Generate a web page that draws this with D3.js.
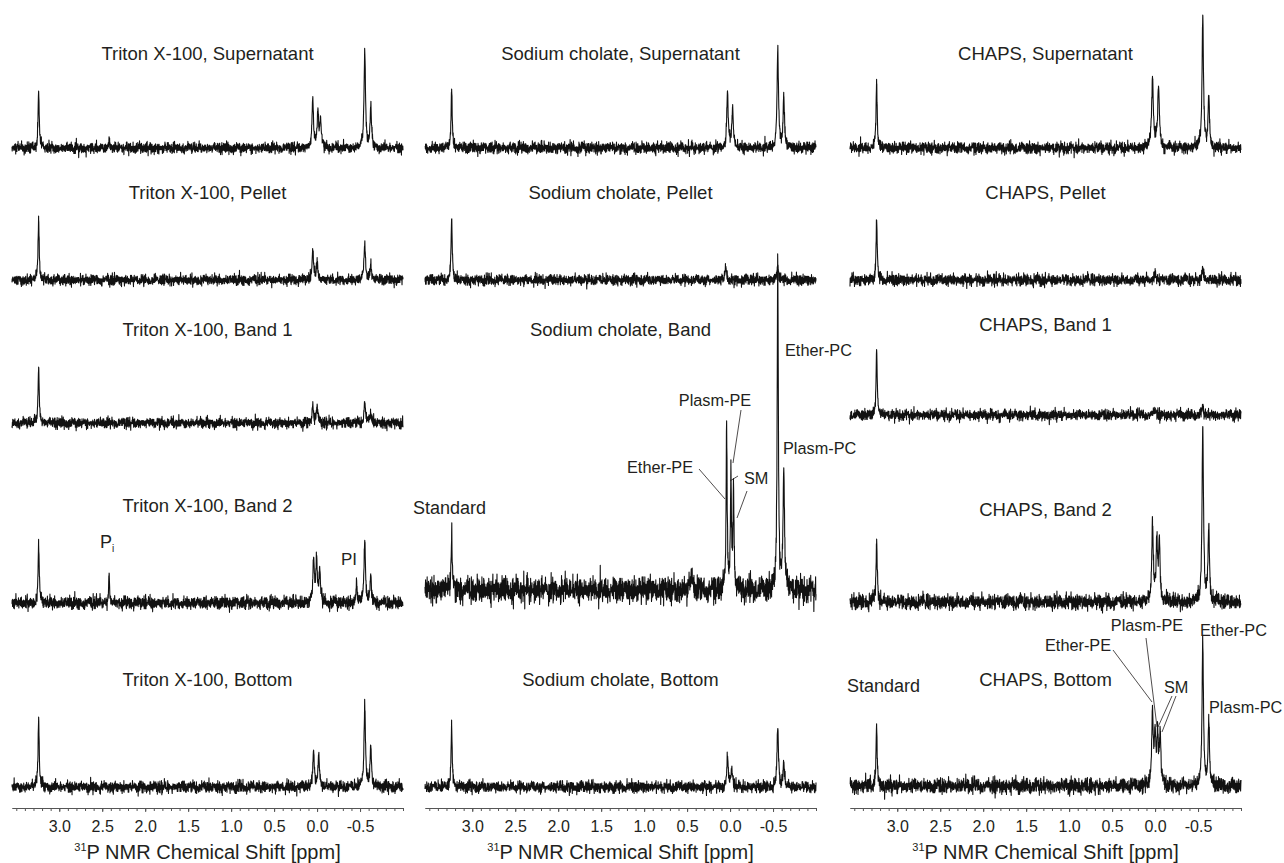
<!DOCTYPE html>
<html>
<head>
<meta charset="utf-8">
<script src="https://cdn.jsdelivr.net/npm/d3@7"></script>
<style>
  body { margin: 0; background: #fff; }
  text { font-family: "Liberation Sans", Arial, Helvetica, sans-serif; fill: #231f20; }
</style>
</head>
<body>
<script>
var svgWidth = 1284;
var svgHeight = 863;

// chemical shift range shown on every axis (ppm, reversed like NMR)
var ppmDomain = [3.55, -1.0];
var majorTicks = [3.0, 2.5, 2.0, 1.5, 1.0, 0.5, 0.0, -0.5];
var minorTicks = d3.range(35, -11, -1).map(d => d / 10);

var detergents = ["Triton X-100", "Sodium cholate", "CHAPS"];

// peaks: [ppm, intensity, half width (ppm)]
var tritonSupernatant = [[3.24, 57, 0.008], [2.42, 11, 0.006], [0.05, 48], [-0.01, 36], [-0.04, 28], [-0.555, 96], [-0.625, 40]];
var tritonPellet = [[3.24, 60, 0.008], [0.05, 29], [0.0, 19], [-0.555, 37], [-0.625, 15]];
var tritonBand1 = [[3.24, 56, 0.008], [0.05, 19], [0.0, 16], [-0.555, 21], [-0.625, 10]];
var tritonBand2 = [[3.24, 58, 0.008], [2.42, 30, 0.006], [0.04, 42], [0.005, 42], [-0.03, 32], [-0.46, 22, 0.007], [-0.555, 62], [-0.625, 25]];
var tritonBottom = [[3.24, 70, 0.008], [0.04, 36], [-0.02, 33], [-0.555, 82], [-0.625, 40]];

var cholateSupernatant = [[3.24, 59, 0.008], [0.03, 56], [-0.03, 40], [-0.555, 97], [-0.625, 50]];
var cholatePellet = [[3.24, 60, 0.008], [0.05, 12], [-0.555, 15]];
var cholateBand = [[3.24, 57, 0.008], [0.45, 14, 0.015], [0.04, 166, 0.007], [-0.01, 116, 0.007], [-0.04, 100, 0.007], [-0.555, 327, 0.008], [-0.625, 118]];
var cholateBottom = [[3.24, 62, 0.008], [0.03, 28], [-0.02, 19], [-0.555, 58], [-0.625, 24]];

var chapsSupernatant = [[3.24, 65, 0.008], [0.03, 70, 0.012], [-0.04, 60, 0.012], [-0.555, 132], [-0.625, 50]];
var chapsPellet = [[3.24, 60, 0.008], [0.0, 7], [-0.555, 13]];
var chapsBand1 = [[3.24, 65, 0.008], [0.0, 6], [-0.555, 8]];
var chapsBand2 = [[3.24, 63, 0.008], [0.03, 80], [-0.02, 58], [-0.05, 60], [-0.555, 174], [-0.625, 74]];
var chapsBottom = [[3.24, 59, 0.008], [0.03, 74], [0.0, 48], [-0.03, 50], [-0.06, 48], [-0.555, 144], [-0.625, 62]];

var panelTitles = [
  "Triton X-100, Supernatant", "Triton X-100, Pellet", "Triton X-100, Band 1", "Triton X-100, Band 2", "Triton X-100, Bottom",
  "Sodium cholate, Supernatant", "Sodium cholate, Pellet", "Sodium cholate, Band", "Sodium cholate, Bottom",
  "CHAPS, Supernatant", "CHAPS, Pellet", "CHAPS, Band 1", "CHAPS, Band 2", "CHAPS, Bottom"
];
var panelPeaks = [
  tritonSupernatant, tritonPellet, tritonBand1, tritonBand2, tritonBottom,
  cholateSupernatant, cholatePellet, cholateBand, cholateBottom,
  chapsSupernatant, chapsPellet, chapsBand1, chapsBand2, chapsBottom
];
var panelNoise = [0.6, 0.6, 0.6, 0.72, 0.65, 0.65, 0.6, 1.45, 0.65, 0.65, 0.65, 0.6, 0.85, 0.85];

// baseline noise trace
var noiseTrace = [
  2, -1, 3, -4, 1, 0, -2, 5, -3, 1, -1, 2, -6, 3, 0, -2, 4, -1, -3, 2, 1, -5, 3, -2, 0, 8, -3, 1, -2, 4, -4, 2,
  -1, 0, 3, -2, -7, 4, 1, -3, 2, -1, 5, -2, 0, -4, 3, 1, -2, 6, -3, 0, 2, -5, 1, 3, -1, -2, 4, -3, 9, -4, 1, -1,
  3, -2, 0, -3, 5, -1, 2, -4, 1, -6, 2, 3, -2, 0, 4, -5, 1, 2, -3, -1, 7, -2, 0, 3, -4, 1, -2, 5, -1, -3, 2, 0,
  -8, 3, 1, -2, 4, -1, 0, -3, 2, 5, -4, 1, -1, 3, -2, -5, 2, 0, 4, -3, 1, -1, 6, -2, 3, -4, 0, 2, -1, -3, 5, -2,
  1, 0, -4, 3, -1, 2, -6, 4, 0, -2, 3, -1, 1, -3, 8, -4, 2, -1, 0, 3, -5, 2, -2, 4, 1, -3, 0, 2, -1, -7, 3, 1,
  -2, 5, -3, 0, 2, -4, 1, 3, -1, -2, 6, -3, 0, 1, -4, 2, -1, 4, -2, 0, -5, 3, 1, -2, 2, -1, -3, 7, -2, 0, 3, -4,
  1, -1, 2, -6, 4, 0, -3, 1, 5, -2, -1, 3, -4, 2, 0, -2, 4, -1, -9, 3, 1, -2, 0, 4, -3, 2, -1, 5, -4, 1, 0, -2,
  3, -1, -5, 2, 4, -3, 0, 1, -2, 6, -4, 2, -1, 0, 3, -3, 1, -2, 5, -1, -4, 2, 0, 3, -2, 1, -6, 4, -1, 0, 2, -3
];

// layout
var colX = [12, 425, 850];
var plotWidth = 391;
var axisY = 808;
var panelCol = [0, 0, 0, 0, 0, 1, 1, 1, 1, 2, 2, 2, 2, 2];
var panelBase = [148, 280, 423, 603, 787, 148, 280, 590, 787, 148, 280, 415, 602, 786];
var titleY = [54, 193, 330, 506, 680, 54, 193, 330, 680, 54, 193, 325, 510, 680];

var svg = d3.select("body")
  .append("svg")
  .attr("width", svgWidth)
  .attr("height", svgHeight);

var nPoints = 2000;

function spectrum(peaks, amp, offset) {
  var pts = d3.range(nPoints).map(function(i) {
    var ppm = ppmDomain[0] + (ppmDomain[1] - ppmDomain[0]) * i / (nPoints - 1);
    var n = noiseTrace[(i + offset) % noiseTrace.length] + noiseTrace[(i * 3 + offset * 7) % 251];
    return { ppm: ppm, noise: n * amp };
  });
  // make sure every peak maximum is sampled
  peaks.forEach(function(p) { pts.push({ ppm: p[0], noise: 0 }); });
  pts.sort((a, b) => b.ppm - a.ppm);
  pts.forEach(function(d) {
    var v = 0;
    peaks.forEach(function(p) {
      var w = p[2] || 0.01;
      var t = (d.ppm - p[0]) / w;
      v += p[1] / (1 + t * t);
    });
    d.v = v + d.noise;
  });
  return pts;
}

panelPeaks.forEach(function(peaks, k) {
  var c = panelCol[k];
  var x = d3.scaleLinear().domain(ppmDomain).range([colX[c], colX[c] + plotWidth]);
  var y = d3.scaleLinear().domain([0, 100]).range([panelBase[k], panelBase[k] - 100]);

  var line = d3.line()
    .x(d => x(d.ppm))
    .y(d => y(d.v));

  svg.append("path")
    .datum(spectrum(peaks, panelNoise[k], k * 37 + 11))
    .attr("d", line)
    .attr("fill", "none")
    .attr("stroke", "#111")
    .attr("stroke-width", 1.1)
    .attr("stroke-linejoin", "round");

  svg.append("text")
    .attr("x", colX[c] + plotWidth / 2)
    .attr("y", titleY[k])
    .attr("dy", "0.35em")
    .attr("text-anchor", "middle")
    .style("font-size", "18.5px")
    .text(panelTitles[k]);
});

// x axes
detergents.forEach(function(name, c) {
  var x = d3.scaleLinear().domain(ppmDomain).range([colX[c], colX[c] + plotWidth]);

  var minorAxis = d3.axisBottom(x).tickValues(minorTicks).tickSize(3).tickSizeOuter(0).tickFormat("");
  var majorAxis = d3.axisBottom(x).tickValues(majorTicks).tickSize(4).tickSizeOuter(0)
    .tickPadding(9).tickFormat(d => d.toFixed(1));

  var gMinor = svg.append("g").attr("transform", `translate(0, ${axisY})`).call(minorAxis);
  var gMajor = svg.append("g").attr("transform", `translate(0, ${axisY})`).call(majorAxis);

  [gMinor, gMajor].forEach(function(g) {
    g.select(".domain").attr("stroke", "#555").attr("stroke-width", 1);
    g.selectAll(".tick line").attr("stroke", "#555");
  });
  gMajor.selectAll(".tick text")
    .style("font-size", "16px")
    .style("font-family", "'Liberation Sans', Arial, sans-serif")
    .attr("fill", "#231f20");

  var label = svg.append("text")
    .attr("x", colX[c] + plotWidth / 2)
    .attr("y", 859)
    .attr("text-anchor", "middle")
    .style("font-size", "20px");
  label.append("tspan").style("font-size", "11px").attr("dy", -8).text("31");
  label.append("tspan").attr("dy", 8).text("P NMR Chemical Shift [ppm]");
});

// peak annotations
function note(txt, x, yc, size, anchor) {
  svg.append("text")
    .attr("x", x)
    .attr("y", yc)
    .attr("dy", "0.35em")
    .attr("text-anchor", anchor || "start")
    .style("font-size", size + "px")
    .text(txt);
}
function leader(x1, y1, x2, y2) {
  svg.append("line")
    .attr("x1", x1).attr("y1", y1).attr("x2", x2).attr("y2", y2)
    .attr("stroke", "#231f20")
    .attr("stroke-width", 0.8);
}

// Triton band 2
var pi = svg.append("text").attr("x", 100).attr("y", 548).style("font-size", "18px");
pi.append("tspan").text("P");
pi.append("tspan").style("font-size", "10px").attr("dy", 4).text("i");
note("PI", 341, 559, 17);

// Sodium cholate band
note("Standard", 413, 508, 18);
note("Ether-PC", 785, 350, 16.3);
note("Plasm-PC", 783, 448, 16.3);
note("Plasm-PE", 715, 400, 16.3, "middle");
note("Ether-PE", 627, 467, 16.3);
note("SM", 744, 478, 16.3);
leader(699, 469, 725, 499);
leader(741, 410, 733, 463);
leader(738, 476, 730, 481);
leader(747, 491, 737, 518);

// CHAPS bottom
note("Standard", 847, 686, 18);
note("Ether-PC", 1200, 630, 16.3);
note("Plasm-PC", 1209, 707, 16.3);
note("Plasm-PE", 1147, 625, 16.3, "middle");
note("Ether-PE", 1045, 645, 16.3);
note("SM", 1164, 687, 16.3);
leader(1113, 650, 1152, 702);
leader(1146, 638, 1157, 727);
leader(1172, 696, 1158, 727);
leader(1176, 696, 1162, 732);
</script>
</body>
</html>
